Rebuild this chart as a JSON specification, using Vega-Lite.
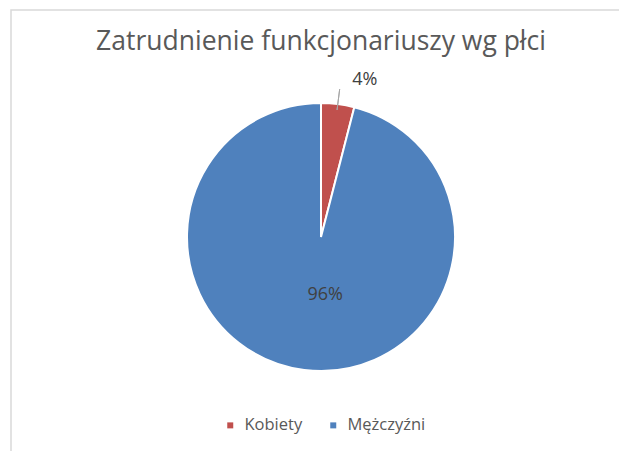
{
  "$schema": "https://vega.github.io/schema/vega-lite/v6.json",
  "autosize": {"type": "none"},
  "width": 620,
  "height": 454,
  "padding": {"left": 11, "top": 10, "right": 0, "bottom": 0},
  "background": "white",
  "view": {"stroke": "#d9d9d9", "strokeWidth": 1.5},
  "title": {
    "text": "Zatrudnienie funkcjonariuszy  wg płci",
    "font": "Open Sans",
    "fontSize": 26.5,
    "fontWeight": "normal",
    "color": "#595959",
    "anchor": "middle",
    "baseline": "alphabetic",
    "offset": -66
  },
  "data": {
    "values": [
      {"plec": "Kobiety", "udzial": 0.04},
      {"plec": "Mężczyźni", "udzial": 0.96}
    ]
  },
  "encoding": {
    "theta": {"field": "udzial", "type": "quantitative", "stack": true},
    "color": {
      "field": "plec",
      "type": "nominal",
      "scale": {"domain": ["Kobiety", "Mężczyźni"], "range": ["#C0504D", "#4F81BD"]},
      "legend": {
        "title": null,
        "orient": "none",
        "direction": "horizontal",
        "legendX": 211,
        "legendY": 407,
        "symbolType": "square",
        "symbolSize": 36,
        "symbolStrokeWidth": 0,
        "labelFont": "Open Sans",
        "labelFontSize": 16.5,
        "labelColor": "#595959",
        "columnPadding": 22,
        "labelOffset": 6
      }
    }
  },
  "layer": [
    {"mark": {"type": "arc", "outerRadius": 134, "stroke": "white", "strokeWidth": 2}},
    {
      "transform": [{"filter": "datum.plec == 'Kobiety'"}],
      "mark": {"type": "arc", "outerRadius": 149, "innerRadius": 128, "padAngle": 0.3, "fill": null, "stroke": "#a6a6a6", "strokeWidth": 1}
    },
    {
      "transform": [{"filter": "datum.plec == 'Kobiety'"}],
      "mark": {"type": "text", "radius": 158, "dx": 24, "font": "Open Sans", "fontSize": 18},
      "encoding": {"text": {"field": "udzial", "type": "quantitative", "format": ".0%"}, "color": {"value": "#404040"}}
    },
    {
      "transform": [{"filter": "datum.plec == 'Mężczyźni'"}],
      "mark": {"type": "text", "radius": 58, "dx": -3, "font": "Open Sans", "fontSize": 18},
      "encoding": {"text": {"field": "udzial", "type": "quantitative", "format": ".0%"}, "color": {"value": "#404040"}}
    }
  ]
}
